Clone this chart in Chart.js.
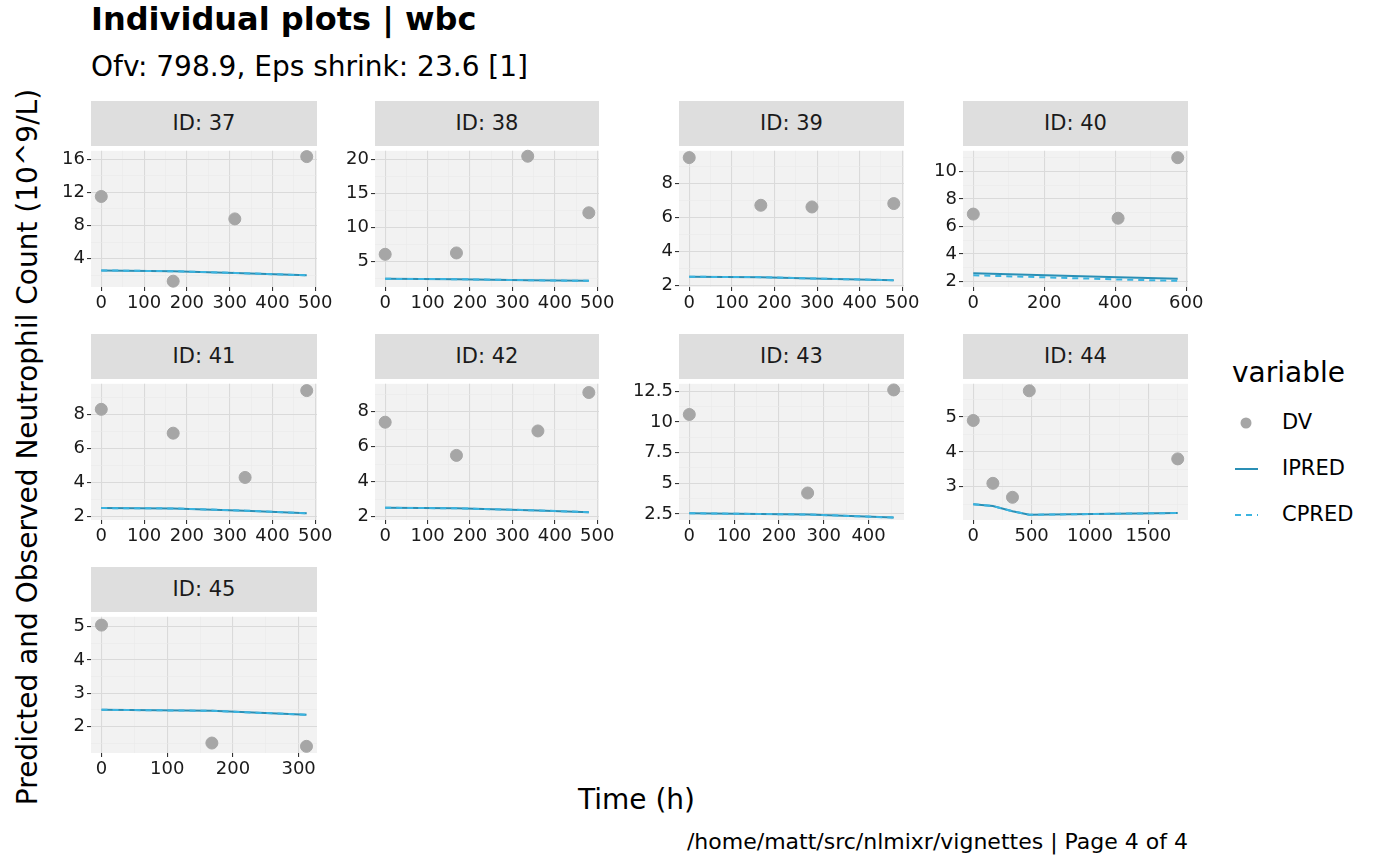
<!DOCTYPE html>
<html><head><meta charset="utf-8">
<script src="https://cdn.jsdelivr.net/npm/chart.js@4"></script>
<style>
body{margin:0;width:1400px;height:865px;background:#fff;font-family:"DejaVu Sans",sans-serif;position:relative;overflow:hidden}
.t{position:absolute;white-space:nowrap;color:#000}
.strip{position:absolute;background:#dedede;color:#1a1a1a;font-size:21px;text-align:center;line-height:45px}
canvas{position:absolute}
</style></head><body>
<div class="t" style="left:91px;top:0px;font-size:32px;font-weight:bold">Individual plots | wbc</div>
<div class="t" style="left:91px;top:50px;font-size:28px">Ofv: 798.9, Eps shrink: 23.6 [1]</div>
<div class="t" style="left:578px;top:783px;font-size:28px">Time (h)</div>
<div class="t" style="left:27px;top:447px;font-size:28px;transform:translate(-50%,-50%) rotate(-90deg)">Predicted and Observed Neutrophil Count (10^9/L)</div>
<div class="t" style="right:212px;top:829px;font-size:22px">/home/matt/src/nlmixr/vignettes | Page 4 of 4</div>
<div class="t" style="left:1232px;top:356px;font-size:28px">variable</div>
<svg style="position:absolute;left:1232px;top:400px" width="40" height="140">
<circle cx="14" cy="23" r="5.5" fill="#a6a6a6"/>
<line x1="3" y1="69" x2="26" y2="69" stroke="#2a8fb5" stroke-width="2"/>
<line x1="3" y1="115" x2="26" y2="115" stroke="#3bb4e0" stroke-width="2" stroke-dasharray="6,5"/>
</svg>
<div class="t" style="left:1282px;top:410px;font-size:21px">DV</div>
<div class="t" style="left:1282px;top:456px;font-size:21px">IPRED</div>
<div class="t" style="left:1282px;top:502px;font-size:21px">CPRED</div>
<script>
// panel ids
const ids = [37, 38, 39, 40, 41, 42, 43, 44, 45];
// observations per id: [time, value]
const dv = {
  37: [[0, 11.5], [168, 1.3], [312, 8.8], [480, 16.3]],
  38: [[0, 6.1], [168, 6.3], [336, 20.5], [480, 12.2]],
  39: [[0, 9.5], [168, 6.7], [288, 6.6], [480, 6.8]],
  40: [[0, 6.9], [408, 6.6], [576, 11.0]],
  41: [[0, 8.3], [168, 6.9], [336, 4.3], [480, 9.4]],
  42: [[0, 7.4], [168, 5.5], [360, 6.9], [480, 9.1]],
  43: [[0, 10.6], [264, 4.2], [456, 12.6]],
  44: [[0, 4.9], [168, 3.1], [336, 2.7], [480, 5.75], [1752, 3.8]],
  45: [[0, 5.05], [168, 1.5], [312, 1.4]]
};
const ipred = {
  37: [[0, 2.6], [168, 2.5], [312, 2.3], [480, 2.0]],
  38: [[0, 2.5], [168, 2.45], [336, 2.3], [480, 2.2]],
  39: [[0, 2.5], [168, 2.48], [288, 2.4], [480, 2.3]],
  40: [[0, 2.6], [408, 2.3], [576, 2.2]],
  41: [[0, 2.5], [168, 2.48], [336, 2.35], [480, 2.2]],
  42: [[0, 2.5], [168, 2.47], [360, 2.35], [480, 2.25]],
  43: [[0, 2.55], [264, 2.45], [456, 2.2]],
  44: [[0, 2.5], [168, 2.45], [336, 2.3], [480, 2.2], [1752, 2.25]],
  45: [[0, 2.5], [168, 2.47], [312, 2.35]]
};
const cpred = {
  37: [[0, 2.6], [168, 2.5], [312, 2.3], [480, 2.0]],
  38: [[0, 2.5], [168, 2.45], [336, 2.3], [480, 2.2]],
  39: [[0, 2.5], [168, 2.48], [288, 2.4], [480, 2.3]],
  40: [[0, 2.45], [408, 2.15], [576, 2.05]],
  41: [[0, 2.5], [168, 2.48], [336, 2.35], [480, 2.2]],
  42: [[0, 2.5], [168, 2.47], [360, 2.35], [480, 2.25]],
  43: [[0, 2.55], [264, 2.45], [456, 2.2]],
  44: [[0, 2.5], [168, 2.45], [336, 2.3], [480, 2.2], [1752, 2.25]],
  45: [[0, 2.5], [168, 2.47], [312, 2.35]]
};
// axis ranges and tick labels
const xRange = {37:[-24,504],38:[-24,504],39:[-24,504],40:[-29,605],41:[-24,504],42:[-24,504],43:[-23,479],44:[-88,1840],45:[-16,328]};
const yRange = {37:[0.6,17],38:[1.3,21.3],39:[1.9,9.9],40:[1.6,11.5],41:[1.8,9.8],42:[1.8,9.6],43:[2.0,13.1],44:[2.05,5.95],45:[1.2,5.3]};
const xTicks = {37:[0,100,200,300,400,500],38:[0,100,200,300,400,500],39:[0,100,200,300,400,500],40:[0,200,400,600],41:[0,100,200,300,400,500],42:[0,100,200,300,400,500],43:[0,100,200,300,400],44:[0,500,1000,1500],45:[0,100,200,300]};
const yTicks = {37:[4,8,12,16],38:[5,10,15,20],39:[2,4,6,8],40:[2,4,6,8,10],41:[2,4,6,8],42:[2,4,6,8],43:[2.5,5,7.5,10,12.5],44:[3,4,5],45:[1,2,3,4,5]};

const colLeft = [91, 375, 679, 963], colW = [226, 224, 225, 225];
const rowTop = [146, 379, 612], H = 141, YW = 56;

function withMinor(major, min, max) {
  const step = major[1] - major[0];
  const out = [];
  for (let v = major[0] - step / 2; v <= max; v += step / 2) {
    if (v >= min) out.push({ value: +v.toFixed(6), minor: !major.some(m => Math.abs(m - v) < 1e-9) });
  }
  return out;
}
const pts = a => a.map(p => ({ x: p[0], y: p[1] }));

const bgPlugin = { id: 'bg', beforeDraw(c) {
  const a = c.chartArea, g = c.ctx;
  g.save(); g.fillStyle = '#f2f2f2'; g.fillRect(a.left, a.top, a.right - a.left, a.bottom - a.top); g.restore();
}};

ids.forEach((id, i) => {
  const r = Math.floor(i / 4), c = i % 4;
  const L = colLeft[c], W = colW[c], T = rowTop[r];
  const s = document.createElement('div');
  s.className = 'strip';
  s.style.cssText = `left:${L}px;top:${T - 45}px;width:${W}px;height:45px`;
  s.textContent = 'ID: ' + id;
  document.body.appendChild(s);
  const cv = document.createElement('canvas');
  const cw = W + YW + 24, ch = H + 8 + 32;
  cv.width = cw; cv.height = ch;
  cv.style.cssText = `left:${L - YW}px;top:${T - 8}px;width:${cw}px;height:${ch}px`;
  document.body.appendChild(cv);
  const mkScale = (rng, ticks, isX) => ({
    type: 'linear', min: rng[0], max: rng[1],
    afterBuildTicks: sc => { sc.ticks = withMinor(ticks, rng[0], rng[1]); },
    afterFit: sc => { if (isX) sc.height = 32; else sc.width = YW; },
    border: { display: false },
    grid: {
      color: ctx => ctx.tick && ctx.tick.minor ? '#e9e9e9' : '#dadada',
      lineWidth: ctx => ctx.tick && ctx.tick.minor ? 0.6 : 1.1,
      tickColor: ctx => ctx.tick && ctx.tick.minor ? 'rgba(0,0,0,0)' : '#333',
      tickLength: 4
    },
    ticks: { autoSkip: false, maxRotation: 0, color: '#1a1a1a', font: { size: 18, family: 'DejaVu Sans' }, padding: 2,
      callback: (v, k, arr) => arr[k].minor ? '' : String(v) }
  });
  new Chart(cv, {
    type: 'scatter',
    data: { datasets: [
      { data: pts(cpred[id]), showLine: true, borderColor: '#3bb4e0', borderWidth: 2, borderDash: [6, 5], pointRadius: 0 },
      { data: pts(ipred[id]), showLine: true, borderColor: '#2a8fb5', borderWidth: 2, pointRadius: 0 },
      { data: pts(dv[id]), pointRadius: 6, backgroundColor: '#a6a6a6', borderColor: '#a6a6a6', clip: false }
    ]},
    options: {
      responsive: false, animation: false, devicePixelRatio: 1,
      layout: { padding: { top: 8, right: 24 } },
      plugins: { legend: { display: false }, tooltip: { enabled: false } },
      scales: { x: mkScale(xRange[id], xTicks[id], true), y: mkScale(yRange[id], yTicks[id], false) }
    },
    plugins: [bgPlugin]
  });
});
</script>
</body></html>
